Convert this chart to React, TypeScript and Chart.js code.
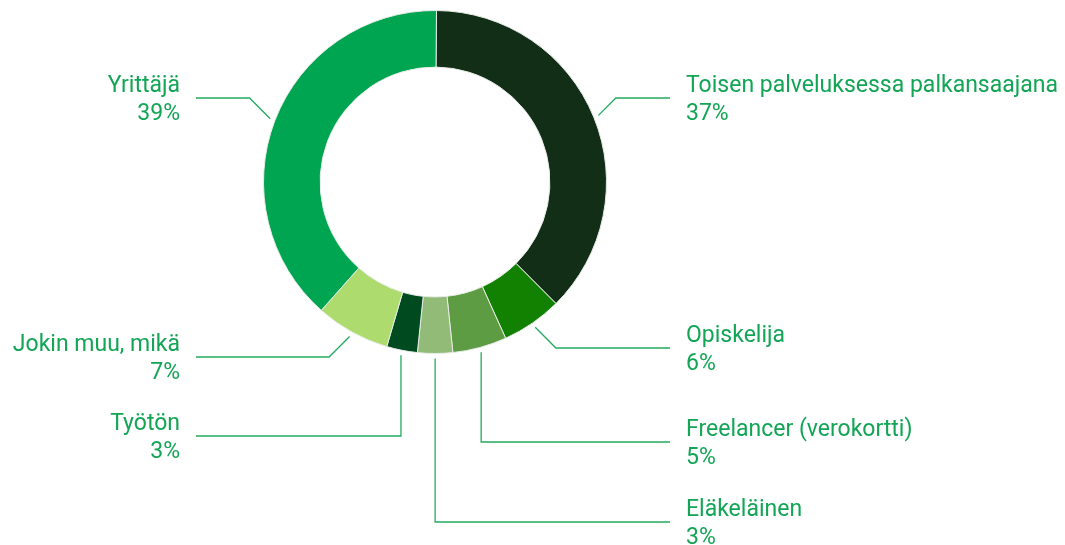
import React, { useEffect, useRef } from "react";
import { Chart, registerables } from "chart.js";

Chart.register(...registerables);

const categories = [
  "Toisen palveluksessa palkansaajana",
  "Opiskelija",
  "Freelancer (verokortti)",
  "Eläkeläinen",
  "Työtön",
  "Jokin muu, mikä",
  "Yrittäjä",
];
const values = [37.4, 5.7, 5.1, 3.3, 2.9, 7.0, 38.6];
const sliceColors = ["#122e17", "#128000", "#5e9c44", "#93bb78", "#004a1f", "#addb6d", "#00a551"];

// label layout: side, y of the leader's horizontal run, elbow style
const labelSides = ["right", "right", "right", "right", "left", "left", "left"];
const labelRowY = [98, 348, 442, 522, 436, 357, 98];
const labelElbow = ["diag", "diag", "vert", "vert", "vert", "diag", "diag"];

const TEXT_COLOR = "#12a555";
const LINE_COLOR = "#22ab5e";
const FONT = "23px Roboto, 'DejaVu Sans', sans-serif";

const labelPlugin = {
  id: "leaderLabels",
  afterDraw(chart: any) {
    const ctx = chart.ctx;
    const meta = chart.getDatasetMeta(0);
    const total = values.reduce((a, b) => a + b, 0);
    ctx.save();
    meta.data.forEach((arc: any, i: number) => {
      const p = arc.getProps(["x", "y", "startAngle", "endAngle", "outerRadius"], true);
      const mid = (p.startAngle + p.endAngle) / 2;
      const r = p.outerRadius + 5;
      const px = p.x + Math.cos(mid) * r;
      const py = p.y + Math.sin(mid) * r;
      const right = labelSides[i] === "right";
      const rowY = labelRowY[i];
      const lineEnd = right ? 670 : 196;
      let ex = px;
      if (labelElbow[i] === "diag") {
        ex = px + (right ? 1 : -1) * Math.abs(rowY - py);
      }
      ctx.strokeStyle = LINE_COLOR;
      ctx.lineWidth = 1.3;
      ctx.beginPath();
      ctx.moveTo(px, py);
      ctx.lineTo(ex, rowY);
      ctx.lineTo(lineEnd, rowY);
      ctx.stroke();

      ctx.fillStyle = TEXT_COLOR;
      ctx.font = FONT;
      ctx.textBaseline = "alphabetic";
      ctx.textAlign = right ? "left" : "right";
      const tx = right ? 686 : 180;
      const pct = Math.round((values[i] / total) * 100) + "%";
      ctx.fillText(categories[i], tx, rowY - 6);
      ctx.fillText(pct, tx, rowY + 22);
    });
    ctx.restore();
  },
};

export default function App() {
  const ref = useRef<HTMLCanvasElement>(null);
  useEffect(() => {
    document.body.style.margin = "0";
    const chart = new Chart(ref.current!, {
      type: "doughnut",
      data: {
        labels: categories,
        datasets: [
          {
            data: values,
            backgroundColor: sliceColors,
            borderColor: "#e6ece6",
            borderWidth: 1,
          },
        ],
      },
      options: {
        responsive: false,
        animation: false,
        rotation: 0.5,
        cutout: "67%",
        layout: { padding: { left: 263, top: 10, right: 458, bottom: 191 } },
        plugins: {
          legend: { display: false },
          tooltip: { enabled: false },
        },
      },
      plugins: [labelPlugin],
    });
    return () => chart.destroy();
  }, []);
  return (
    <div style={{ width: 1065, height: 545, background: "#fff" }}>
      <canvas ref={ref} width={1065} height={545} style={{ display: "block" }} />
    </div>
  );
}
